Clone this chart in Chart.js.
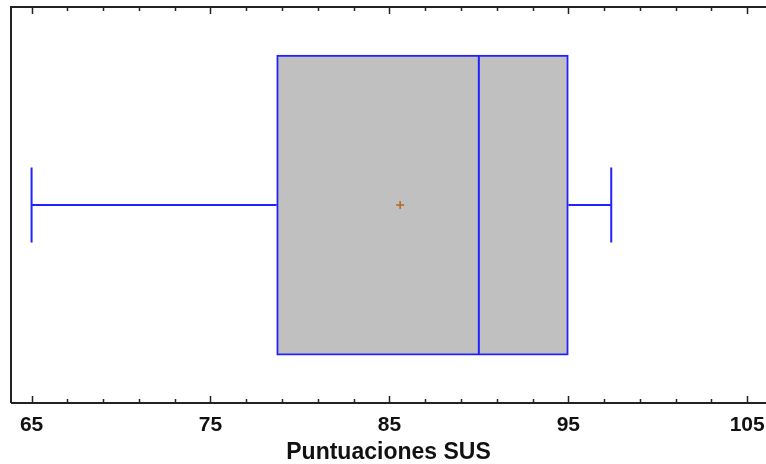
<!DOCTYPE html>
<html>
<head>
<meta charset="utf-8">
<script src="https://cdn.jsdelivr.net/npm/chart.js@4"></script>
<style>
  html, body { margin: 0; padding: 0; background: #fff; overflow: hidden; }
  #wrap { width: 766px; height: 464px; }
</style>
</head>
<body>
<div id="wrap"><canvas id="susChart"></canvas></div>
<script>
// box plot summary
const categorias = ['SUS'];
const minimos = [65];
const cuartil1 = [78.7];
const medianas = [90];
const cuartil3 = [95];
const maximos = [97.4];
const medias = [85.6];
const marcas = [65, 75, 85, 95, 105];

const azul = '#2222ff';

// whiskers, median, mean and the frame with inward ticks
const cajaPlugin = {
  id: 'caja',
  afterDatasetsDraw(chart) {
    const ctx = chart.ctx;
    const x = chart.scales.x;
    const meta = chart.getDatasetMeta(0);
    ctx.save();
    meta.data.forEach((bar, i) => {
      const yc = bar.y;
      const h = bar.height;
      const top = yc - h / 2, bot = yc + h / 2;
      const cap = h / 8;
      ctx.strokeStyle = azul;
      ctx.lineWidth = 2;
      ctx.beginPath();
      // median
      ctx.moveTo(x.getPixelForValue(medianas[i]), top);
      ctx.lineTo(x.getPixelForValue(medianas[i]), bot);
      // whiskers
      ctx.moveTo(x.getPixelForValue(minimos[i]), yc);
      ctx.lineTo(x.getPixelForValue(cuartil1[i]), yc);
      ctx.moveTo(x.getPixelForValue(cuartil3[i]), yc);
      ctx.lineTo(x.getPixelForValue(maximos[i]), yc);
      // caps
      ctx.moveTo(x.getPixelForValue(minimos[i]), yc - cap);
      ctx.lineTo(x.getPixelForValue(minimos[i]), yc + cap);
      ctx.moveTo(x.getPixelForValue(maximos[i]), yc - cap);
      ctx.lineTo(x.getPixelForValue(maximos[i]), yc + cap);
      ctx.stroke();
      // mean
      const mx = x.getPixelForValue(medias[i]);
      ctx.strokeStyle = '#b5651d';
      ctx.lineWidth = 1.5;
      ctx.beginPath();
      ctx.moveTo(mx - 4, yc); ctx.lineTo(mx + 4, yc);
      ctx.moveTo(mx, yc - 4); ctx.lineTo(mx, yc + 4);
      ctx.stroke();
    });

    const a = chart.chartArea;
    ctx.strokeStyle = '#222';
    ctx.lineWidth = 2;
    ctx.beginPath();
    ctx.moveTo(a.left, a.bottom); ctx.lineTo(a.left, a.top); ctx.lineTo(a.right, a.top);
    ctx.moveTo(a.left, a.bottom); ctx.lineTo(a.right, a.bottom);
    ctx.stroke();
    ctx.lineWidth = 1.5;
    ctx.beginPath();
    for (let v = marcas[0]; v <= marcas[marcas.length - 1]; v += 2) {
      const px = Math.round(x.getPixelForValue(v)) + 0.5;
      const len = marcas.includes(v) ? 7 : 4;
      ctx.moveTo(px, a.top); ctx.lineTo(px, a.top + len);
      ctx.moveTo(px, a.bottom); ctx.lineTo(px, a.bottom - len);
    }
    ctx.stroke();
    ctx.restore();
  }
};

new Chart(document.getElementById('susChart'), {
  type: 'bar',
  data: {
    labels: categorias,
    datasets: [{
      data: categorias.map((c, i) => [cuartil1[i], cuartil3[i]]),
      backgroundColor: '#c0c0c0',
      borderColor: azul,
      borderWidth: 2,
      borderSkipped: false,
      barThickness: 300
    }]
  },
  options: {
    indexAxis: 'y',
    responsive: true,
    maintainAspectRatio: false,
    animation: false,
    layout: { padding: { left: 11, top: 7, right: 0, bottom: 0 } },
    plugins: { legend: { display: false }, tooltip: { enabled: false } },
    scales: {
      x: {
        type: 'linear',
        min: 63.85,
        max: 106.05,
        afterBuildTicks: (axis) => { axis.ticks = marcas.map(v => ({ value: v })); },
        afterFit: (axis) => { axis.paddingRight = 0; axis.paddingLeft = 0; },
        grid: { display: false, drawTicks: false },
        border: { display: false },
        ticks: {
          color: '#111',
          padding: 14,
          maxRotation: 0,
          font: { family: 'Liberation Sans', size: 21, weight: 'bold', lineHeight: 0.815 }
        },
        title: {
          display: true,
          text: 'Puntuaciones SUS',
          color: '#111',
          padding: { top: -5, bottom: 1 },
          font: { family: 'Liberation Sans', size: 23, weight: 'bold', lineHeight: 0.86 }
        }
      },
      y: { display: false }
    }
  },
  plugins: [cajaPlugin]
});
</script>
</body>
</html>
